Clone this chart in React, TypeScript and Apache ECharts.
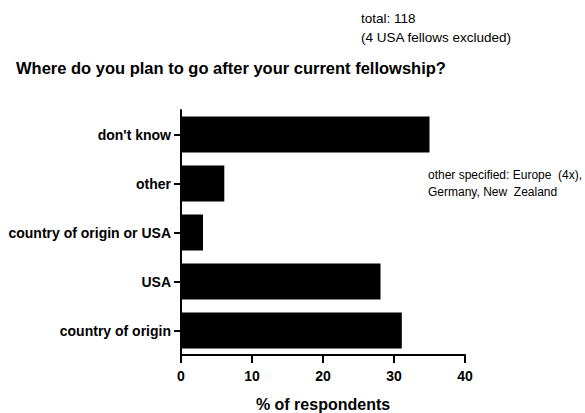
import React, { useEffect, useRef } from "react";
import * as echarts from "echarts";

const categories = ["country of origin", "USA", "country of origin or USA", "other", "don't know"];
const percentValues = [31.1, 28.1, 3.1, 6.1, 35.0];
const xTicks = [0, 10, 20, 30, 40];
const titleText = "Where do you plan to go after your current fellowship?";
const totalLines = ["total: 118", "(4 USA fellows excluded)"];
const noteLines = ["other specified: Europe  (4x),", "Germany, New  Zealand"];
const xAxisName = "% of respondents";

const FONT = "'Liberation Sans', Arial, sans-serif";

export default function App() {
  const ref = useRef<HTMLDivElement>(null);
  useEffect(() => {
    if (!ref.current) return;
    const chart = echarts.init(ref.current, null, { renderer: "svg" });
    chart.setOption({
      animation: false,
      backgroundColor: "#ffffff",
      grid: { left: 181, right: 120, top: 110, bottom: 58, containLabel: false, outerBoundsMode: "none" },
      xAxis: {
        type: "value",
        min: xTicks[0],
        max: xTicks[xTicks.length - 1],
        interval: 10,
        splitLine: { show: false },
        axisLine: { show: true, lineStyle: { color: "#000", width: 2 } },
        axisTick: { show: true, length: 8, lineStyle: { color: "#000", width: 2 } },
        axisLabel: { color: "#000", fontFamily: FONT, fontWeight: "bold", fontSize: 14, margin: 14 },
        name: xAxisName,
        nameLocation: "middle",
        nameGap: 41,
        nameTextStyle: { color: "#000", fontFamily: FONT, fontWeight: "bold", fontSize: 16 },
      },
      yAxis: {
        type: "category",
        data: categories,
        axisLine: { show: true, lineStyle: { color: "#000", width: 2 } },
        axisTick: { show: true, alignWithLabel: true, length: 7, lineStyle: { color: "#000", width: 2 } },
        axisLabel: { color: "#000", fontFamily: FONT, fontWeight: "bold", fontSize: 14, margin: 10 },
        splitLine: { show: false },
      },
      series: [
        {
          type: "bar",
          data: percentValues,
          barWidth: 36,
          itemStyle: { color: "#000" },
        },
      ],
      graphic: [
        {
          type: "text",
          left: 16,
          top: 59,
          style: { text: titleText, fill: "#000", font: `bold 16.5px ${FONT}` },
        },
        {
          type: "text",
          x: 361,
          y: 18.5,
          style: { text: totalLines[0], fill: "#000", font: `13.5px ${FONT}`, verticalAlign: "middle" },
        },
        {
          type: "text",
          x: 361,
          y: 37.5,
          style: { text: totalLines[1], fill: "#000", font: `13.5px ${FONT}`, verticalAlign: "middle" },
        },
        {
          type: "text",
          x: 428,
          y: 175,
          style: { text: noteLines[0], fill: "#000", font: `12px ${FONT}`, verticalAlign: "middle" },
        },
        {
          type: "text",
          x: 428,
          y: 191.5,
          style: { text: noteLines[1], fill: "#000", font: `12px ${FONT}`, verticalAlign: "middle" },
        },
      ],
    });
    return () => chart.dispose();
  }, []);
  return (
    <div
      ref={ref}
      style={{ position: "fixed", left: 0, top: 0, width: 585, height: 413, background: "#fff" }}
    />
  );
}
